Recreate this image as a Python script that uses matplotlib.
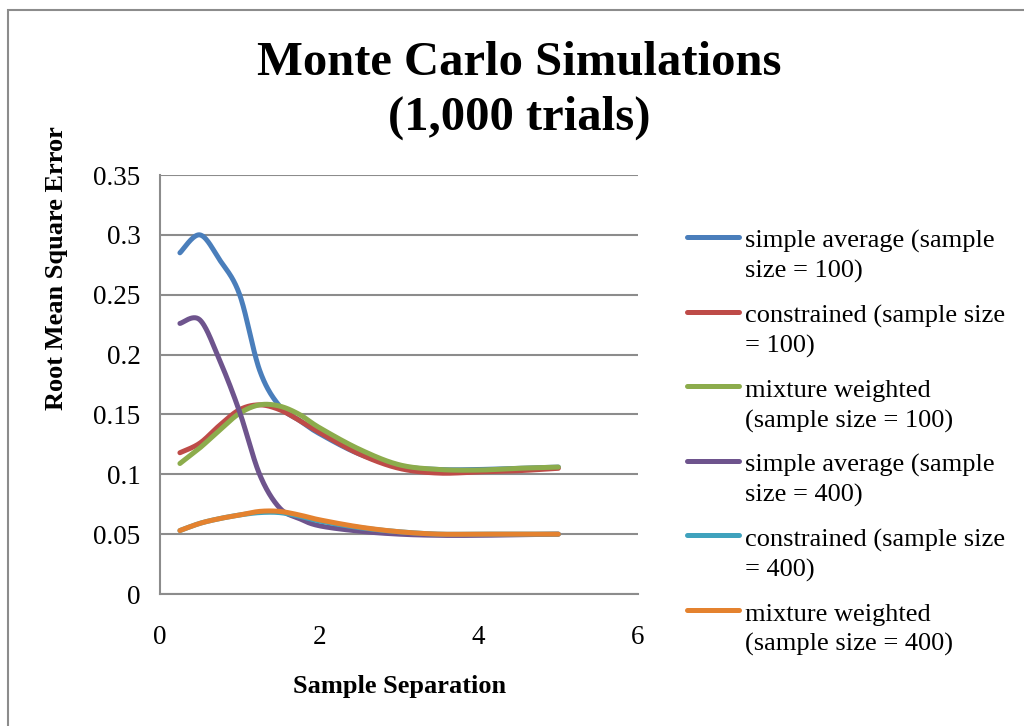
import numpy as np
import matplotlib
matplotlib.use("Agg")
import matplotlib.pyplot as plt
from matplotlib.lines import Line2D
from matplotlib.patches import Rectangle

plt.rcParams['font.family'] = ['Liberation Serif', 'DejaVu Serif']

# sample separation values
sep = [0.25, 0.5, 0.75, 1.0, 1.25, 1.5, 1.75, 2.0, 2.5, 3.0, 3.5, 4.0, 4.5, 5.0]

# RMSE for each method
simple_100 = [0.285, 0.300, 0.279, 0.250, 0.187, 0.157, 0.145, 0.134, 0.117, 0.107, 0.104, 0.104, 0.105, 0.106]
constr_100 = [0.118, 0.126, 0.141, 0.154, 0.158, 0.154, 0.145, 0.135, 0.117, 0.105, 0.101, 0.102, 0.103, 0.105]
mixture_100 = [0.109, 0.122, 0.137, 0.151, 0.158, 0.157, 0.150, 0.139, 0.121, 0.108, 0.104, 0.1035, 0.105, 0.106]
simple_400 = [0.226, 0.229, 0.195, 0.152, 0.100, 0.072, 0.063, 0.057, 0.0525, 0.050, 0.049, 0.049, 0.0495, 0.050]
constr_400 = [0.053, 0.059, 0.063, 0.066, 0.068, 0.068, 0.065, 0.061, 0.0555, 0.052, 0.050, 0.050, 0.050, 0.050]
mixture_400 = [0.053, 0.059, 0.063, 0.066, 0.069, 0.069, 0.066, 0.062, 0.056, 0.052, 0.050, 0.050, 0.050, 0.050]

labels = [['simple average (sample', 'size = 100)'],
          ['constrained (sample size', '= 100)'],
          ['mixture weighted', '(sample size = 100)'],
          ['simple average (sample', 'size = 400)'],
          ['constrained (sample size', '= 400)'],
          ['mixture weighted', '(sample size = 400)']]
colors = ['#4a7ebb', '#be4b48', '#8cac4c', '#6e548d', '#3fa2bd', '#e4822f']
series = [simple_100, constr_100, mixture_100, simple_400, constr_400, mixture_400]


def smooth(x, y, n=30):
    # Excel-like smoothed line: cubic bezier through the points
    x = np.asarray(x, float)
    y = np.asarray(y, float)
    px, py = [], []
    for i in range(len(x) - 1):
        i0 = max(i - 1, 0)
        i3 = min(i + 2, len(x) - 1)
        c1x = x[i] + (x[i + 1] - x[i0]) / 6
        c1y = y[i] + (y[i + 1] - y[i0]) / 6
        c2x = x[i + 1] - (x[i3] - x[i]) / 6
        c2y = y[i + 1] - (y[i3] - y[i]) / 6
        t = np.linspace(0, 1, n)
        px.append((1 - t) ** 3 * x[i] + 3 * (1 - t) ** 2 * t * c1x + 3 * (1 - t) * t ** 2 * c2x + t ** 3 * x[i + 1])
        py.append((1 - t) ** 3 * y[i] + 3 * (1 - t) ** 2 * t * c1y + 3 * (1 - t) * t ** 2 * c2y + t ** 3 * y[i + 1])
    return np.concatenate(px), np.concatenate(py)


W, H = 1024, 726
fig = plt.figure(figsize=(W / 100, H / 100), dpi=100)
ax = fig.add_axes([160 / W, 1 - 594 / H, 478 / W, 419 / H])

# chart frame
fig.add_artist(Rectangle((8 / W, -0.1), 1.2, 1 - 10 / H + 0.1, transform=fig.transFigure,
                         fill=False, edgecolor='#8c8c8c', lw=1.5))

for s, c in zip(series, colors):
    sx, sy = smooth(sep, s)
    ax.plot(sx, sy, color=c, lw=3.6, solid_capstyle='round')

ax.set_xlim(0, 6)
ax.set_ylim(0, 0.35)
ax.set_xticks([0, 2, 4, 6])
ax.set_yticks(np.arange(0, 0.351, 0.05))
ax.set_yticklabels(['0', '0.05', '0.1', '0.15', '0.2', '0.25', '0.3', '0.35'])
ax.tick_params(length=0, labelsize=19.5)
ax.tick_params(axis='y', pad=14)
ax.tick_params(axis='x', pad=22)
ax.grid(axis='y', color='#8c8c8c', lw=1.5)
ax.set_axisbelow(True)
for side in ['top', 'right']:
    ax.spines[side].set_visible(False)
for side in ['left', 'bottom']:
    ax.spines[side].set_color('#8c8c8c')
    ax.spines[side].set_linewidth(1.5)

fig.text(519 / W, 1 - 75 / H, 'Monte Carlo Simulations', ha='center', va='baseline',
         fontsize=35, fontweight='bold')
fig.text(519 / W, 1 - 130 / H, '(1,000 trials)', ha='center', va='baseline',
         fontsize=35, fontweight='bold')
fig.text(57 / W, 1 - 268 / H, 'Root Mean Square Error', rotation=90, ha='center', va='center',
         fontsize=19, fontweight='bold')
fig.text(400 / W, 1 - 686 / H, 'Sample Separation', ha='center', va='center',
         fontsize=19, fontweight='bold')

# legend
for k, (lab, c) in enumerate(zip(labels, colors)):
    yp = 237 + k * 74.6
    fig.add_artist(Line2D([687 / W, 739 / W], [1 - yp / H] * 2, transform=fig.transFigure,
                          color=c, lw=3.6, solid_capstyle='round'))
    for j, line in enumerate(lab):
        fig.text(745 / W, 1 - (yp + 11 + 30 * j) / H, line, ha='left', va='baseline', fontsize=19)

fig.savefig('out.png', dpi=100)
